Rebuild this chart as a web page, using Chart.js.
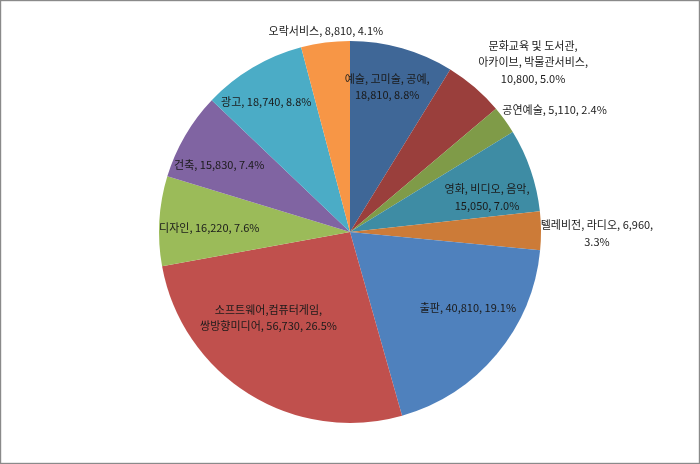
<!DOCTYPE html>
<html>
<head>
<meta charset="utf-8">
<script src="https://cdn.jsdelivr.net/npm/chart.js@4/dist/chart.umd.min.js"></script>
<style>
  html, body { margin: 0; padding: 0; background: #fff; }
  #wrap { position: relative; width: 700px; height: 464px; }
</style>
</head>
<body>
<div id="wrap"><canvas id="grafPie"></canvas></div>
<script>
// 분야별 값 (시계방향, 12시부터)
const categorias = [
  ['예술, 고미술, 공예,'],
  ['문화교육 및 도서관,', '아카이브, 박물관서비스,'],
  ['공연예술'],
  ['영화, 비디오, 음악,'],
  ['텔레비전, 라디오, 6,960,'],
  ['출판'],
  ['소프트웨어,컴퓨터게임,', '쌍방향미디어'],
  ['디자인'],
  ['건축'],
  ['광고'],
  ['오락서비스']
];
const valores = [18810, 10800, 5110, 15050, 6960, 40810, 56730, 16220, 15830, 18740, 8810];
const porcentajes = ['8.8%', '5.0%', '2.4%', '7.0%', '3.3%', '19.1%', '26.5%', '7.6%', '7.4%', '8.8%', '4.1%'];
const colores = ['#3F6797', '#9A3F3C', '#7F9B48', '#3E8CA4', '#CC7B38',
                 '#4F81BD', '#C0504D', '#9BBB59', '#8064A2', '#4BACC6', '#F79646'];

// texto final de cada etiqueta
function textoEtiqueta(i) {
  let lineas = categorias[i].slice();
  let num = valores[i].toLocaleString('en-US');
  let ultima = lineas[lineas.length - 1];
  if (i === 0 || i === 1 || i === 3) {
    lineas.push(num + ', ' + porcentajes[i]);
  } else if (i === 4) {
    lineas.push(porcentajes[i]);
  } else {
    lineas[lineas.length - 1] = ultima + ', ' + num + ', ' + porcentajes[i];
  }
  return lineas;
}

// [factor radio, dx, dy] para ubicar cada etiqueta
const ubicacion = [
  [0.79, -4, 0], [1.30, 21, 18], [1.244, 12, 17], [0.736, 4, 11],
  [1.293, 0, 3], [0.729, 11, -13], [0.609, -20, -13], [0.738, 0, 4],
  [0.769, -4, 7], [0.81, -5, 3], [1.06, 2, 0]
];

const etiquetasPlugin = {
  id: 'etiquetas',
  beforeDraw(chart) {
    const c = chart.ctx;
    c.save();
    c.fillStyle = '#fff';
    c.fillRect(0, 0, chart.width, chart.height);
    c.strokeStyle = '#8a8a8a';
    c.lineWidth = 1.2;
    c.strokeRect(0.6, 0.6, chart.width - 1.2, chart.height - 1.2);
    c.restore();
  },
  afterDatasetsDraw(chart) {
    const c = chart.ctx;
    const arcos = chart.getDatasetMeta(0).data;
    c.save();
    c.font = '11px "Noto Sans CJK KR", sans-serif';
    c.fillStyle = '#1a1a1a';
    c.textAlign = 'center';
    c.textBaseline = 'middle';
    arcos.forEach((arco, i) => {
      const p = arco.getProps(['x', 'y', 'startAngle', 'endAngle', 'outerRadius'], true);
      const medio = (p.startAngle + p.endAngle) / 2;
      const u = ubicacion[i];
      const x = p.x + Math.cos(medio) * p.outerRadius * u[0] + u[1];
      const y = p.y + Math.sin(medio) * p.outerRadius * u[0] + u[2];
      const lineas = textoEtiqueta(i);
      const alto = 16.5;
      lineas.forEach((t, k) => {
        c.fillText(t, x, y + (k - (lineas.length - 1) / 2) * alto);
      });
    });
    c.restore();
  }
};

var ctx = document.getElementById('grafPie').getContext('2d');
var miGrafico = new Chart(ctx, {
  type: 'pie',
  data: {
    labels: categorias.map(l => l.join(' ')),
    datasets: [{
      data: valores,
      backgroundColor: colores,
      borderWidth: 0
    }]
  },
  options: {
    responsive: true,
    maintainAspectRatio: false,
    animation: false,
    layout: { padding: { top: 41, bottom: 41, left: 10, right: 10 } },
    plugins: {
      legend: { display: false },
      tooltip: { enabled: false }
    }
  },
  plugins: [etiquetasPlugin]
});
</script>
</body>
</html>
